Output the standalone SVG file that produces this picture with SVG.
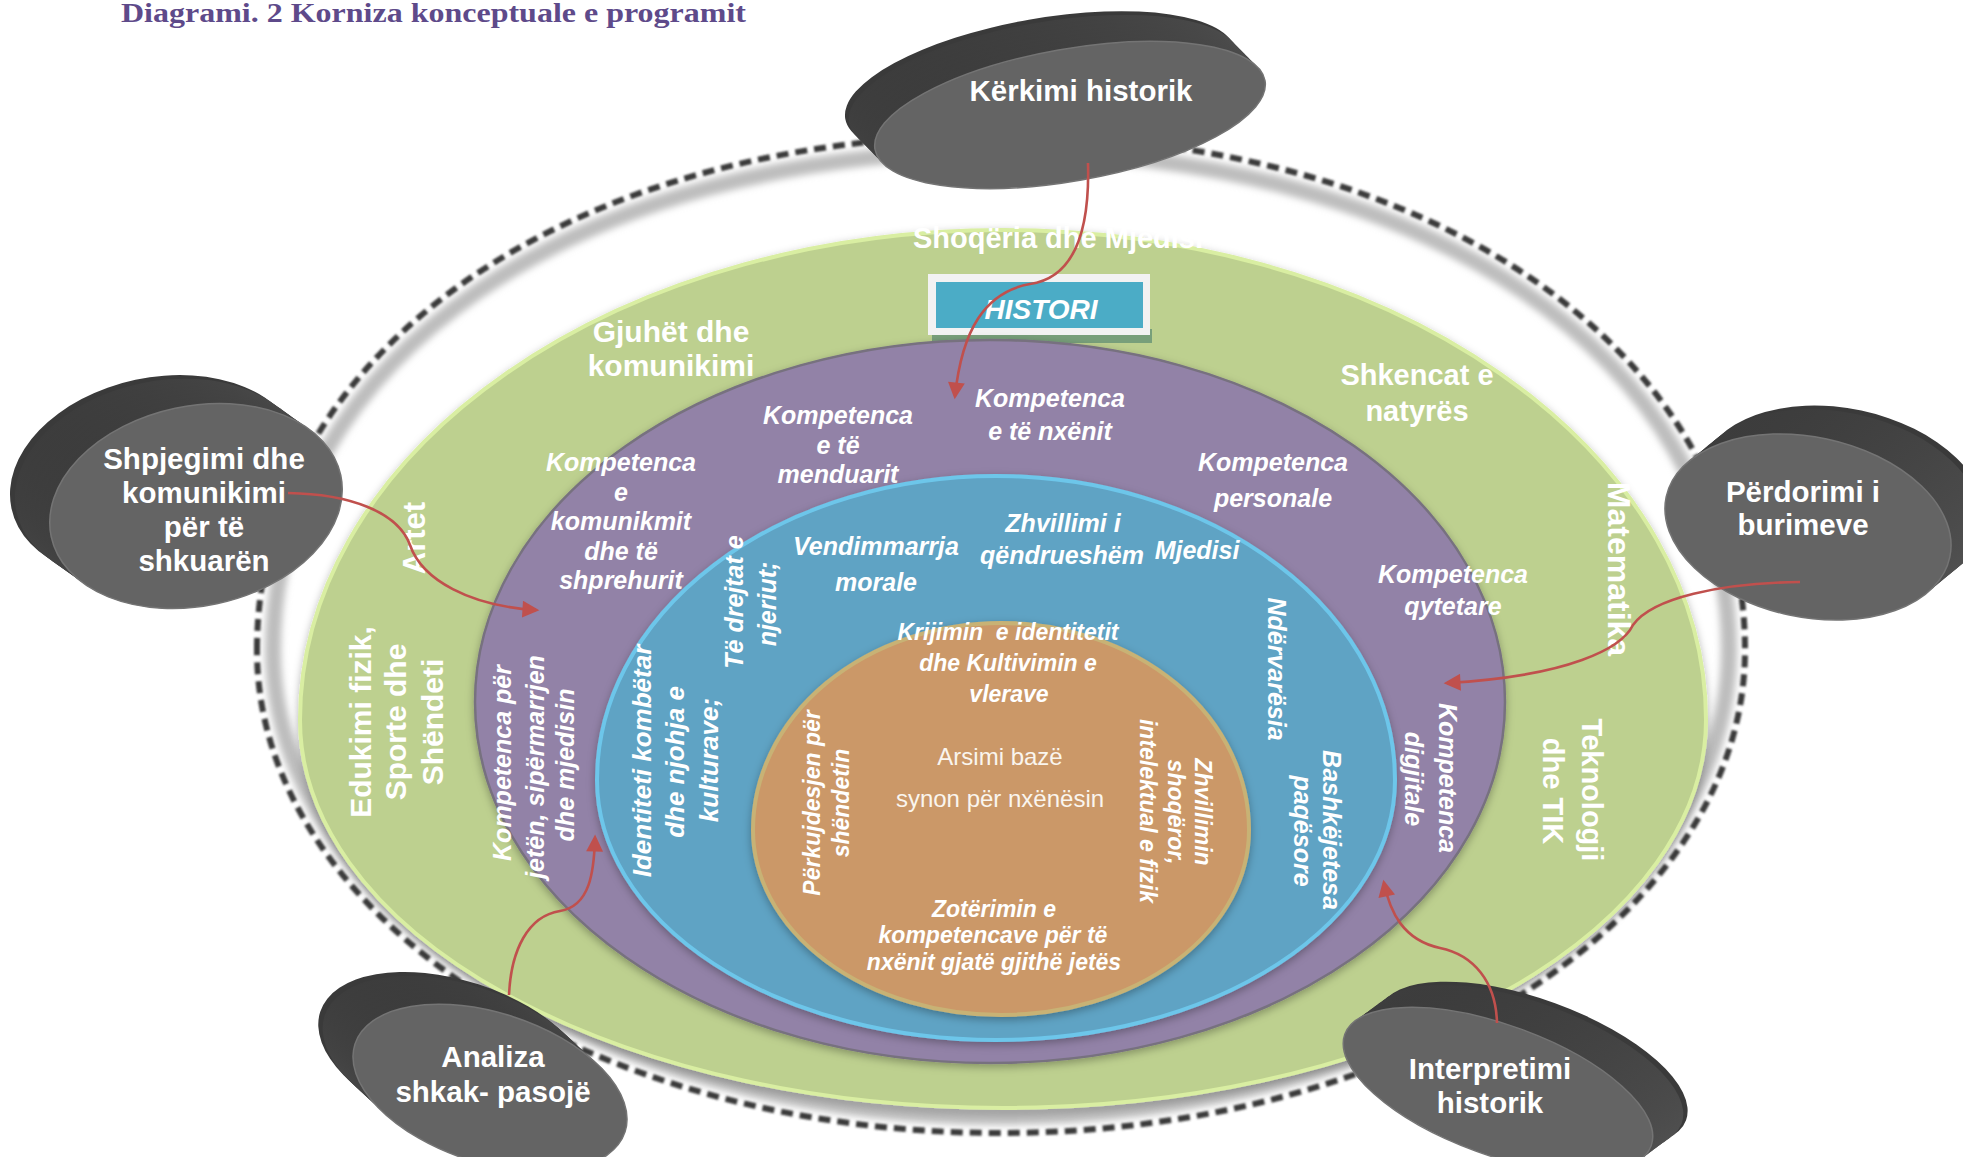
<svg xmlns="http://www.w3.org/2000/svg" width="1963" height="1157" viewBox="0 0 1963 1157">
<style>
.t{font-family:"Liberation Sans",Arial,sans-serif;font-weight:bold;fill:#fff;text-anchor:middle}
.i{font-style:italic}
.s23{font-size:23px}.s25{font-size:25px}.s26{font-size:26px}.s29{font-size:29px}.s30{font-size:30px}.s31{font-size:31px}.s32{font-size:32px}
.pk{font-size:29.5px}
.reg{font-family:"Liberation Sans",Arial,sans-serif;font-weight:normal;fill:#faf5ee;text-anchor:middle;font-size:24px}
.side{fill:url(#sideG)}
.face{fill:#646464;stroke:#747474;stroke-width:1.5}
.back{fill:#3a3a3a}
.con{fill:none;stroke:#c0504d;stroke-width:2.6;marker-end:url(#ah)}
</style>
<defs>
<linearGradient id="sideG" x1="0" y1="0" x2="1" y2="1">
<stop offset="0" stop-color="#383838"/><stop offset="1" stop-color="#555"/>
</linearGradient>
<filter id="blur1" x="-5%" y="-5%" width="110%" height="110%"><feGaussianBlur stdDeviation="1.3"/></filter>
<filter id="blur3" x="-5%" y="-5%" width="110%" height="110%"><feGaussianBlur stdDeviation="3.5"/></filter>
<filter id="sh" x="-5%" y="-5%" width="110%" height="115%"><feDropShadow dx="0" dy="3" stdDeviation="4" flood-color="#000" flood-opacity="0.3"/></filter>
<marker id="ah" viewBox="0 0 10 10" refX="8" refY="5" markerWidth="7" markerHeight="6.5" markerUnits="strokeWidth" orient="auto">
<path d="M0,0 L10,5 L0,10 z" fill="#c0504d"/>
</marker>
</defs>
<rect width="1963" height="1157" fill="#fff"/>
<text x="121" y="22" font-family="Liberation Serif,'Times New Roman',serif" font-weight="bold" font-size="27" fill="#5e4a8a" textLength="625" lengthAdjust="spacingAndGlyphs">Diagrami. 2 Korniza konceptuale e programit</text>

<g id="ring">
<path d="M273,650 C273,358 578,151 1000,151 C1422,151 1729,358 1729,650 C1729,908 1402,1117 1000,1117 C598,1117 273,908 273,650 Z" fill="none" stroke="#bdbdbd" stroke-width="16" filter="url(#blur3)"/>
<path d="M257,650 C257,351 569,135 1000,135 C1431,135 1745,351 1745,650 C1745,916 1410,1133 1000,1133 C590,1133 257,916 257,650 Z" fill="none" stroke="#3a3a3a" stroke-width="6" stroke-dasharray="12 7" filter="url(#blur1)"/>
</g>

<g id="ring-green">
<path d="M300,720 A703,490 0 0 1 1706,720 A703,388 0 0 1 300,720 Z" fill="#bdd08f" stroke="#d9eea2" stroke-width="4" filter="url(#sh)"/>
<text class="t s29" x="1058" y="248">Shoqëria dhe Mjedisi</text>
<text class="t s30" x="671" y="342">Gjuhët dhe</text>
<text class="t s30" x="671" y="376">komunikimi</text>
<text class="t s29" x="1417" y="385">Shkencat e</text>
<text class="t s29" x="1417" y="421">natyrës</text>
<text class="t s31" transform="translate(425,538) rotate(-90)">Artet</text>
<text class="t s30" transform="translate(371,722) rotate(-90)">Edukimi fizik,</text>
<text class="t s30" transform="translate(406,722) rotate(-90)">Sporte dhe</text>
<text class="t s30" transform="translate(443,722) rotate(-90)">Shëndeti</text>
<text class="t s32" transform="translate(1608,569) rotate(90)">Matematika</text>
<text class="t s29" transform="translate(1582,790) rotate(90)">Teknologji</text>
<text class="t s29" transform="translate(1543,791) rotate(90)">dhe TIK</text>
</g>

<g id="histori">
<rect x="932" y="329" width="220" height="14" fill="#5b8a70" opacity="0.7"/>
<rect x="928" y="274" width="222" height="61" fill="#f2f2f2"/>
<rect x="936" y="282" width="207" height="46" fill="#4bacc6"/>
<text class="t i" x="1041" y="319" font-size="28">HISTORI</text>
</g>

<g id="ring-purple">
<path d="M475,702 A515,362 0 0 1 1505,702 A515,361 0 0 1 475,702 Z" fill="#9282a7" stroke="#77717f" stroke-width="2.5" filter="url(#sh)"/>
<text class="t i s25" x="838" y="424">Kompetenca</text>
<text class="t i s25" x="838" y="454">e të</text>
<text class="t i s25" x="838" y="483">menduarit</text>
<text class="t i s25" x="1050" y="407">Kompetenca</text>
<text class="t i s25" x="1050" y="440">e të nxënit</text>
<text class="t i s25" x="621" y="471">Kompetenca</text>
<text class="t i s25" x="621" y="501">e</text>
<text class="t i s25" x="621" y="530">komunikmit</text>
<text class="t i s25" x="621" y="560">dhe të</text>
<text class="t i s25" x="621" y="589">shprehurit</text>
<text class="t i s25" x="1273" y="471">Kompetenca</text>
<text class="t i s25" x="1273" y="507">personale</text>
<text class="t i s25" x="1453" y="583">Kompetenca</text>
<text class="t i s25" x="1453" y="615">qytetare</text>
<text class="t i s25" transform="translate(1439,778) rotate(90)">Kompetenca</text>
<text class="t i s25" transform="translate(1405,779) rotate(90)">digjitale</text>
<text class="t i s25" transform="translate(511,763) rotate(-90)">Kompetenca për</text>
<text class="t i s25" transform="translate(544,767) rotate(-90)">jetën, sipërmarrjen</text>
<text class="t i s25" transform="translate(574,765) rotate(-90)">dhe mjedisin</text>
</g>

<g id="ring-blue">
<path d="M597,780 A399,304 0 0 1 1395,780 A399,260 0 0 1 597,780 Z" fill="#5fa3c4" stroke="#6dc6ea" stroke-width="4" filter="url(#sh)"/>
<text class="t i s25" x="876" y="555">Vendimmarrja</text>
<text class="t i s25" x="876" y="591">morale</text>
<text class="t i s25" x="1063" y="532">Zhvillimi i</text>
<text class="t i s25" x="1062" y="564">qëndrueshëm</text>
<text class="t i s25" x="1197" y="559">Mjedisi</text>
<text class="t i s25" transform="translate(743,602) rotate(-90)">Të drejtat e</text>
<text class="t i s25" transform="translate(776,604) rotate(-90)">njeriut;</text>
<text class="t i s26" transform="translate(651,761) rotate(-90)">Identiteti kombëtar</text>
<text class="t i s26" transform="translate(684,762) rotate(-90)">dhe njohja e</text>
<text class="t i s26" transform="translate(718,760) rotate(-90)">kulturave;</text>
<text class="t i s25" transform="translate(1268,669) rotate(90)">Ndërvarësia</text>
<text class="t i s25" transform="translate(1323,830) rotate(90)">Bashkëjetesa</text>
<text class="t i s25" transform="translate(1294,831) rotate(90)">paqësore</text>
</g>

<g id="core">
<path d="M753,830 A248,207 0 0 1 1249,830 A248,185 0 0 1 753,830 Z" fill="#cb9868" stroke="#c8b274" stroke-width="4" filter="url(#sh)"/>
<text class="t i s23" x="1008" y="640" xml:space="preserve">Krijimin  e identitetit</text>
<text class="t i s23" x="1008" y="671">dhe Kultivimin e</text>
<text class="t i s23" x="1009" y="702">vlerave</text>
<text class="reg" x="1000" y="765">Arsimi bazë</text>
<text class="reg" x="1000" y="807">synon për nxënësin</text>
<text class="t i s23" x="994" y="917">Zotërimin e</text>
<text class="t i s23" x="993" y="943">kompetencave për të</text>
<text class="t i s23" x="994" y="970">nxënit gjatë gjithë jetës</text>
<text class="t i s23" transform="translate(820,803) rotate(-90)">Përkujdesjen për</text>
<text class="t i s23" transform="translate(849,803) rotate(-90)">shëndetin</text>
<text class="t i s23" transform="translate(1195,812) rotate(90)">Zhvillimin</text>
<text class="t i s23" transform="translate(1168,812) rotate(90)">shoqëror,</text>
<text class="t i s23" transform="translate(1140,811) rotate(90)">intelektual e fizik</text>
</g>

<g id="puck-kerkimi">
<g transform="translate(1070,115) rotate(-10)">
<ellipse class="back" cx="-24" cy="-35" rx="198" ry="66"/>
<ellipse class="side" cx="-21" cy="-30.6" rx="198" ry="66"/>
<ellipse class="side" cx="-18" cy="-26.2" rx="198" ry="66"/>
<ellipse class="side" cx="-15" cy="-21.9" rx="198" ry="66"/>
<ellipse class="side" cx="-12" cy="-17.5" rx="198" ry="66"/>
<ellipse class="side" cx="-9" cy="-13.1" rx="198" ry="66"/>
<ellipse class="side" cx="-6" cy="-8.7" rx="198" ry="66"/>
<ellipse class="side" cx="-3" cy="-4.4" rx="198" ry="66"/>
<ellipse class="face" cx="0" cy="0" rx="198" ry="66"/>
</g>
<text class="t pk" x="1081" y="101">Kërkimi historik</text>
</g>

<g id="puck-shpjegimi">
<g transform="translate(196,506) rotate(-12)">
<ellipse class="back" cx="-33" cy="-36" rx="148" ry="100"/>
<ellipse class="side" cx="-28.9" cy="-31.5" rx="148" ry="100"/>
<ellipse class="side" cx="-24.8" cy="-27" rx="148" ry="100"/>
<ellipse class="side" cx="-20.6" cy="-22.5" rx="148" ry="100"/>
<ellipse class="side" cx="-16.5" cy="-18" rx="148" ry="100"/>
<ellipse class="side" cx="-12.4" cy="-13.5" rx="148" ry="100"/>
<ellipse class="side" cx="-8.3" cy="-9" rx="148" ry="100"/>
<ellipse class="side" cx="-4.1" cy="-4.5" rx="148" ry="100"/>
<ellipse class="face" cx="0" cy="0" rx="148" ry="100"/>
</g>
<text class="t pk" x="204" y="469">Shpjegimi dhe</text>
<text class="t pk" x="204" y="503">komunikimi</text>
<text class="t pk" x="204" y="537">për të</text>
<text class="t pk" x="204" y="571">shkuarën</text>
</g>

<g id="puck-perdorimi">
<g transform="translate(1808,527) rotate(12)">
<ellipse class="back" cx="28" cy="-35" rx="145" ry="90"/>
<ellipse class="side" cx="24.5" cy="-30.6" rx="145" ry="90"/>
<ellipse class="side" cx="21" cy="-26.2" rx="145" ry="90"/>
<ellipse class="side" cx="17.5" cy="-21.9" rx="145" ry="90"/>
<ellipse class="side" cx="14" cy="-17.5" rx="145" ry="90"/>
<ellipse class="side" cx="10.5" cy="-13.1" rx="145" ry="90"/>
<ellipse class="side" cx="7" cy="-8.7" rx="145" ry="90"/>
<ellipse class="side" cx="3.5" cy="-4.4" rx="145" ry="90"/>
<ellipse class="face" cx="0" cy="0" rx="145" ry="90"/>
</g>
<text class="t pk" x="1803" y="502">Përdorimi i</text>
<text class="t pk" x="1803" y="535">burimeve</text>
</g>

<g id="puck-analiza">
<g transform="translate(490,1088) rotate(18)">
<ellipse class="back" cx="-43" cy="-20" rx="142" ry="75"/>
<ellipse class="side" cx="-37.6" cy="-17.5" rx="142" ry="75"/>
<ellipse class="side" cx="-32.2" cy="-15" rx="142" ry="75"/>
<ellipse class="side" cx="-26.9" cy="-12.5" rx="142" ry="75"/>
<ellipse class="side" cx="-21.5" cy="-10" rx="142" ry="75"/>
<ellipse class="side" cx="-16.1" cy="-7.5" rx="142" ry="75"/>
<ellipse class="side" cx="-10.7" cy="-5" rx="142" ry="75"/>
<ellipse class="side" cx="-5.4" cy="-2.5" rx="142" ry="75"/>
<ellipse class="face" cx="0" cy="0" rx="142" ry="75"/>
</g>
<text class="t pk" x="493" y="1067">Analiza</text>
<text class="t pk" x="493" y="1102">shkak- pasojë</text>
</g>

<g id="puck-interpretimi">
<g transform="translate(1498,1090) rotate(20)">
<ellipse class="back" cx="24" cy="-36" rx="163" ry="65"/>
<ellipse class="side" cx="21" cy="-31.5" rx="163" ry="65"/>
<ellipse class="side" cx="18" cy="-27" rx="163" ry="65"/>
<ellipse class="side" cx="15" cy="-22.5" rx="163" ry="65"/>
<ellipse class="side" cx="12" cy="-18" rx="163" ry="65"/>
<ellipse class="side" cx="9" cy="-13.5" rx="163" ry="65"/>
<ellipse class="side" cx="6" cy="-9" rx="163" ry="65"/>
<ellipse class="side" cx="3" cy="-4.5" rx="163" ry="65"/>
<ellipse class="face" cx="0" cy="0" rx="163" ry="65"/>
</g>
<text class="t pk" x="1490" y="1079">Interpretimi</text>
<text class="t pk" x="1490" y="1113">historik</text>
</g>

<g id="connectors">
<path class="con" d="M1088,163 C1090,235 1072,278 1030,284 C985,292 962,330 955,396"/>
<path class="con" d="M288,493 C350,494 398,512 410,545 C422,580 470,606 536,610"/>
<path class="con" d="M1800,582 C1720,583 1652,598 1633,625 C1622,648 1570,676 1447,683"/>
<path class="con" d="M509,995 C511,950 528,916 560,911 C590,906 594,872 595,838"/>
<path class="con" d="M1497,1023 C1496,982 1474,955 1440,948 C1403,940 1390,912 1384,883"/>
</g>
</svg>
